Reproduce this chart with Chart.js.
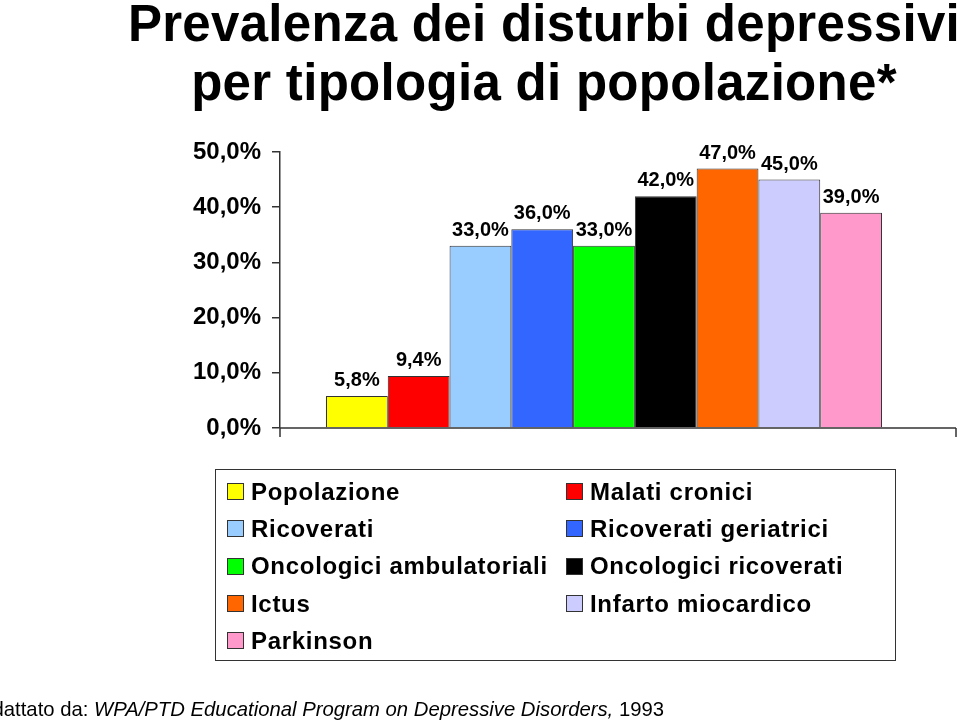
<!DOCTYPE html>
<html>
<head>
<meta charset="utf-8">
<script src="https://cdn.jsdelivr.net/npm/chart.js@4/dist/chart.umd.min.js"></script>
<style>
	html, body { margin: 0; padding: 0; background: #fff; overflow: hidden; }
	body { width: 960px; height: 720px; position: relative; font-family: 'Liberation Sans', Arial, sans-serif; }
	#chart { position: absolute; left: 0; top: 0; }
	.title {
		position: absolute; left: 0; top: -6px; width: 1088px;
		text-align: center; font-weight: bold; font-size: 51px; line-height: 59px;
		letter-spacing: 0.3px; white-space: nowrap; color: #000;
	}
	#legend {
		position: absolute; left: 215px; top: 469px;
		border: 1px solid #333;
		display: grid; grid-template-columns: 339px 339px; grid-auto-rows: 37.3px;
		padding-top: 3px; padding-left: 11px; box-sizing: border-box; width: 681px; height: 192px;
	}
	#legend div { display: flex; align-items: center; font-weight: bold; font-size: 24px; letter-spacing: 0.7px; white-space: nowrap; }
	#legend span.sw { width: 15px; height: 15px; border: 1px solid #333; margin-right: 7px; flex: none; }
	.footer { position: absolute; left: -21px; top: 697px; font-size: 20.3px; line-height: 24px; white-space: nowrap; color: #000; }
</style>
</head>
<body>
<canvas id="chart" width="960" height="720"></canvas>
<div class="title">Prevalenza dei disturbi depressivi<br>per tipologia di popolazione*</div>
<div id="legend"></div>
<div class="footer">Adattato da: <i>WPA/PTD Educational Program on Depressive Disorders,</i> 1993</div>
<script>
const GROUPS = ['Popolazione', 'Malati cronici', 'Ricoverati', 'Ricoverati geriatrici', 'Oncologici ambulatoriali',
	'Oncologici ricoverati', 'Ictus', 'Infarto miocardico', 'Parkinson'];
const VALUES = [5.8, 9.4, 33.0, 36.0, 33.0, 42.0, 47.0, 45.0, 39.0];
const COLORS = ['#FFFF00', '#FF0000', '#99CCFF', '#3366FF', '#00FF00', '#000000', '#FF6600', '#CCCCFF', '#FF99CC'];
const Y_TICKS = [0, 10, 20, 30, 40, 50];

const fmt = (v) => v.toFixed(1).replace('.', ',') + '%';

// value labels above each bar
const barLabels = {
	id: 'barLabels',
	afterDatasetsDraw(chart) {
		const ctx = chart.ctx;
		ctx.save();
		ctx.font = 'bold 20px "Liberation Sans", Arial, sans-serif';
		ctx.fillStyle = '#000';
		ctx.textAlign = 'center';
		ctx.textBaseline = 'alphabetic';
		chart.data.datasets.forEach((ds, i) => {
			const bar = chart.getDatasetMeta(i).data[0];
			ctx.fillText(fmt(ds.data[0]), bar.x, bar.y - 10);
		});
		ctx.restore();
	},
};

// the slide's category axis runs a bit past the plot area, with tick marks at both ends
const axisEnds = {
	id: 'axisEnds',
	afterDraw(chart) {
		const ctx = chart.ctx;
		const area = chart.chartArea;
		const y0 = chart.scales.y.getPixelForValue(0);
		const end = chart.width - 4;
		ctx.save();
		ctx.strokeStyle = '#333';
		ctx.lineWidth = 1.5;
		ctx.beginPath();
		ctx.moveTo(area.left, y0);
		ctx.lineTo(end, y0);
		ctx.moveTo(area.left, y0);
		ctx.lineTo(area.left, y0 + 9);
		ctx.moveTo(end, y0);
		ctx.lineTo(end, y0 + 9);
		ctx.stroke();
		ctx.restore();
	},
};

document.addEventListener('DOMContentLoaded', () => {
	new Chart(document.getElementById('chart'), {
		type: 'bar',
		data: {
			labels: [''],
			datasets: GROUPS.map((g, i) => ({
				label: g,
				data: [VALUES[i]],
				backgroundColor: COLORS[i],
				borderColor: '#333',
				borderWidth: 1,
			})),
		},
		options: {
			responsive: false,
			animation: false,
			categoryPercentage: 0.858,
			barPercentage: 1,
			layout: { padding: { top: 152, left: 0, right: 32, bottom: 292 } },
			plugins: { legend: { display: false }, tooltip: { enabled: false } },
			scales: {
				x: {
					afterFit: (s) => { s.height = 0; },
					ticks: { display: false },
					border: { display: false },
					grid: { display: false },
				},
				y: {
					min: 0,
					max: 50,
					afterFit: (s) => { s.width = 280; },
					afterBuildTicks: (s) => { s.ticks = Y_TICKS.map((v) => ({ value: v })); },
					ticks: {
						padding: 11,
						color: '#000',
						font: { family: '"Liberation Sans", Arial, sans-serif', size: 24, weight: 'bold' },
						callback: (v) => fmt(v),
					},
					border: { color: '#333', width: 1.5 },
					grid: { drawOnChartArea: false, drawTicks: true, tickLength: 8, color: '#333', lineWidth: 1.5 },
				},
			},
		},
		plugins: [barLabels, axisEnds],
	});

	// legend in two columns, like the original slide
	const legend = document.getElementById('legend');
	GROUPS.forEach((g, i) => {
		const item = document.createElement('div');
		item.innerHTML = '<span class="sw" style="background:' + COLORS[i] + '"></span>' + g;
		legend.appendChild(item);
	});
});
</script>
</body>
</html>
